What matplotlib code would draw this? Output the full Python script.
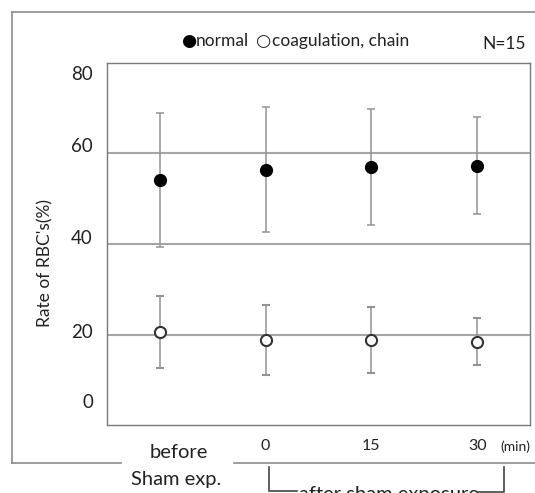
import matplotlib
matplotlib.use("Agg")
import matplotlib.pyplot as plt
from matplotlib.lines import Line2D

plt.rcParams['font.family'] = ['Lato', 'DejaVu Sans']

# data
time_points = ["before", "0", "15", "30"]
normal_mean = [54.2, 56.4, 57.0, 57.3]
normal_sd = [14.8, 13.8, 12.9, 10.7]
coag_mean = [20.6, 18.8, 18.7, 18.4]
coag_sd = [7.9, 7.8, 7.3, 5.2]
ytick_labels = ["0", "20", "40", "60", "80"]
grid_values = [20, 40, 60]

W, H = 535, 493
fig = plt.figure(figsize=(W / 100, H / 100), dpi=100)


def px(x, y):
    # pixel coords (origin top-left) -> figure fraction
    return x / W, 1 - y / H


gray = "#8c8c8c"
txt = "#222222"

# outer frame (top, left, bottom with a gap behind "before / Sham exp.")
fig.add_artist(Line2D([12 / W, 1], [1 - 12 / H] * 2, color=gray, lw=1.2))
fig.add_artist(Line2D([12 / W] * 2, [1 - 12 / H, 1 - 463 / H], color=gray, lw=1.2))
fig.add_artist(Line2D([12 / W, 121 / W], [1 - 463 / H] * 2, color=gray, lw=1.2))
fig.add_artist(Line2D([234 / W, 1], [1 - 463 / H] * 2, color=gray, lw=1.2))

ax = fig.add_axes([107 / W, 68 / H, 423 / W, 362 / H])
x = list(range(1, len(time_points) + 1))

for g in grid_values:
    ax.axhline(g, color="#a6a6a6", lw=1.5, zorder=1)

ax.errorbar(x, normal_mean, yerr=normal_sd, fmt="o", color="black", ms=8.5,
            ecolor="#939393", elinewidth=1.1, capsize=2.8, capthick=1.1, zorder=3)
ax.errorbar(x, coag_mean, yerr=coag_sd, fmt="o", mfc="white", mec="#333333",
            mew=1.5, ms=8, ecolor="#939393", elinewidth=1.1, capsize=2.8,
            capthick=1.1, zorder=3)

ax.set_xlim(0.5, 4.5)
ax.set_ylim(0, 80)
ax.set_xticks([])
ax.set_yticks([])
for s in ax.spines.values():
    s.set_color("#7a7a7a")
    s.set_linewidth(1.0)

# y tick labels and title
label_y = [403, 333, 239, 146, 75]
for lab, yy in zip(ytick_labels, label_y):
    fig.text(*px(93, yy), lab, ha="right", va="center", fontsize=13.5, color=txt)
fig.text(*px(45, 263), "Rate of RBC's(%)", rotation=90, ha="center", va="center",
         fontsize=12.5, color=txt)

# legend line (symbols in DejaVu, words in Lato) and N
fig.text(*px(181, 41), "\u25CF", ha="left", va="center", fontsize=12.5,
         color="black", family=["DejaVu Sans"])
fig.text(*px(196, 41), "normal", ha="left", va="center", fontsize=12.5, color=txt)
fig.text(*px(256, 41), "\u25CB", ha="left", va="center", fontsize=12.5,
         color=txt, family=["DejaVu Sans"])
fig.text(*px(272, 41), "coagulation, chain", ha="left", va="center", fontsize=12.5, color=txt)
fig.text(*px(504, 44), "N=15", ha="center", va="center", fontsize=12.5, color=txt)

# x labels
for lab, xx in zip(time_points[1:], x[1:]):
    ax.text(xx, -0.058, lab, transform=ax.get_xaxis_transform(), ha="center",
            va="center", fontsize=11.5, color=txt)
fig.text(*px(515, 447), "(min)", ha="center", va="center", fontsize=10, color=txt)
fig.text(*px(179, 452), "before", ha="center", va="center", fontsize=14.5, color=txt)
fig.text(*px(176, 480), "Sham exp.", ha="center", va="center", fontsize=14.5, color=txt)

# bracket for after sham exposure
bk = dict(color="#444444", lw=1.2)
fig.add_artist(Line2D([269 / W, 269 / W, 297 / W], [1 - 467 / H, 1 - 491 / H, 1 - 491 / H], **bk))
fig.add_artist(Line2D([478 / W, 504 / W, 504 / W], [1 - 492 / H, 1 - 492 / H, 1 - 467 / H], **bk))
fig.text(*px(389, 494), "after sham exposure", ha="center", va="center", fontsize=14.5,
         color=txt)

fig.savefig("out.png", dpi=100)
